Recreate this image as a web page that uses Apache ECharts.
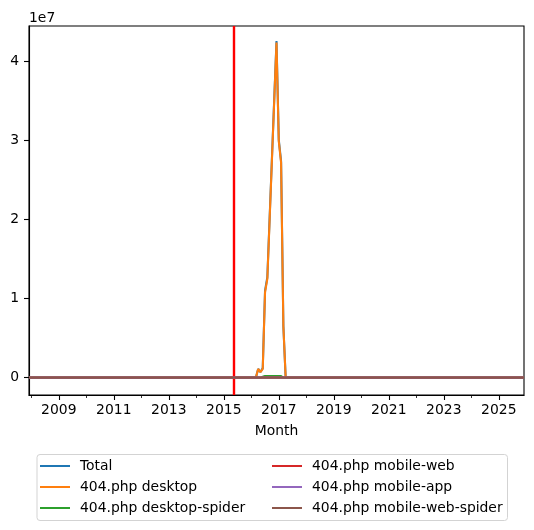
<!DOCTYPE html>
<html>
<head>
<meta charset="utf-8">
<script src="https://cdn.jsdelivr.net/npm/echarts@6/dist/echarts.min.js"></script>
<style>html,body{margin:0;padding:0;background:#fff}#c{width:534px;height:530px}</style>
</head>
<body>
<div id="c"></div>
<script>
const months = ["2007-12","2016-03","2016-04","2016-05","2016-06","2016-07","2016-08","2016-09","2016-10","2016-11","2016-12","2017-01","2017-02","2017-03","2017-04","2025-12"];
const total          = [0, 0, 1.1e6, 0.7e6, 1.2e6, 1.10e7, 1.27e7, 2.02e7, 2.77e7, 3.52e7, 4.26e7, 3.01e7, 2.74e7, 0.65e7, 0, 0];
const desktop        = [0, 0, 1.1e6, 0.7e6, 1.1e6, 1.08e7, 1.25e7, 2.00e7, 2.75e7, 3.50e7, 4.24e7, 2.99e7, 2.72e7, 0.65e7, 0, 0];
const desktopSpider  = [0, 0, 0,     0,     1e5,   2e5,    2e5,    2e5,    2e5,    2e5,    2e5,    2e5,    2e5,    0,      0, 0];
const mobileWeb      = [0, 0, 0, 0, 0, 0, 0, 0, 0, 0, 0, 0, 0, 0, 0, 0];
const mobileApp      = [0, 0, 0, 0, 0, 0, 0, 0, 0, 0, 0, 0, 0, 0, 0, 0];
const mobileWebSpider= [0, 0, 0, 0, 0, 0, 0, 0, 0, 0, 0, 0, 0, 0, 0, 0];
const seriesNames = ["Total","404.php desktop","404.php desktop-spider","404.php mobile-web","404.php mobile-app","404.php mobile-web-spider"];
const markerMonth = "2015-05";
const xStart = "2007-12", xEnd = "2025-12";
const majorYears = [2009,2011,2013,2015,2017,2019,2021,2023,2025];
const minorYears = [2008,2009,2010,2011,2012,2013,2014,2015,2016,2017,2018,2019,2020,2021,2022,2023,2024,2025];
const yTicks = [0,1e7,2e7,3e7,4e7];

function toYear(m){ const p = m.split('-'); return (+p[0]) + (+p[1]-1)/12; }
const colors = ['#1f77b4','#ff7f0e','#2ca02c','#d62728','#9467bd','#8c564b'];
const allData = [total, desktop, desktopSpider, mobileWeb, mobileApp, mobileWebSpider];
const FONT = 'DejaVu Sans';
const FS = 13.9;

const series = allData.map((arr, i) => ({
  name: seriesNames[i],
  type: 'line',
  showSymbol: false,
  symbol: 'none',
  lineStyle: {width: 2.08, color: colors[i]},
  itemStyle: {color: colors[i]},
  data: months.map((m, j) => [toYear(m), arr[j]]),
  z: 2 + i
}));
series[0].markLine = {
  silent: true, symbol: 'none', label: {show: false},
  lineStyle: {color: '#ff0000', width: 2.4, type: 'solid'},
  data: [{xAxis: toYear(markerMonth) + 0.03}]
};
series[5].z = 8;
series[5].lineStyle.width = 2.4;

const chart = echarts.init(document.getElementById('c'), null, {renderer: 'canvas'});
chart.setOption({
  animation: false,
  backgroundColor: '#fff',
  textStyle: {fontFamily: FONT},
  grid: {left: 29, right: 10, top: 26, bottom: 135, show: true, borderColor: '#000', borderWidth: 1.1, backgroundColor: 'transparent'},
  xAxis: [{
    type: 'value', min: toYear(xStart), max: toYear(xEnd),
    name: 'Month', nameLocation: 'middle', nameGap: 29,
    nameTextStyle: {fontFamily: FONT, fontSize: FS, color: '#000'},
    axisLine: {show: true, onZero: false, lineStyle: {color: '#000', width: 1.1}},
    axisTick: {show: true, length: 5, lineStyle: {color: '#000', width: 1.1}, customValues: majorYears},
    axisLabel: {show: true, margin: 8, fontFamily: FONT, fontSize: FS, color: '#000', customValues: majorYears, formatter: v => String(Math.round(v))},
    splitLine: {show: false}
  }, {
    type: 'value', min: toYear(xStart), max: toYear(xEnd), position: 'bottom',
    axisLine: {show: false, onZero: false},
    axisTick: {show: true, length: 3, lineStyle: {color: '#000', width: 0.8}, customValues: minorYears},
    axisLabel: {show: false},
    splitLine: {show: false}
  }],
  yAxis: {
    type: 'value', min: -2.2e6, max: 4.45e7,
    axisLine: {show: true, onZero: false, lineStyle: {color: '#000', width: 1.1}},
    axisTick: {show: true, length: 5, lineStyle: {color: '#000', width: 1.1}, customValues: yTicks},
    axisLabel: {show: true, margin: 10, fontFamily: FONT, fontSize: FS, color: '#000', customValues: yTicks, formatter: v => String(Math.round(v/1e7))},
    splitLine: {show: false}
  },
  legend: [{
    data: seriesNames.slice(0,3), orient: 'vertical', left: 35, top: 454,
    icon: 'rect', itemWidth: 30, itemHeight: 2, itemGap: 7,
    textStyle: {fontFamily: FONT, fontSize: FS, color: '#000', lineHeight: 14, padding: [0,0,0,5]},
    selectedMode: false
  }, {
    data: seriesNames.slice(3), orient: 'vertical', left: 267, top: 454,
    icon: 'rect', itemWidth: 30, itemHeight: 2, itemGap: 7,
    textStyle: {fontFamily: FONT, fontSize: FS, color: '#000', lineHeight: 14, padding: [0,0,0,5]},
    selectedMode: false
  }],
  graphic: [
    {type: 'rect', left: 36.5, top: 454, z: -10, shape: {width: 470.5, height: 66, r: 3}, style: {fill: '#fff', stroke: '#d3d3d3', lineWidth: 1}},
    {type: 'text', left: 29, top: 11, style: {text: '1e7', fontFamily: FONT, fontSize: FS, fill: '#000'}}
  ],
  series: series
});
</script>
</body>
</html>
